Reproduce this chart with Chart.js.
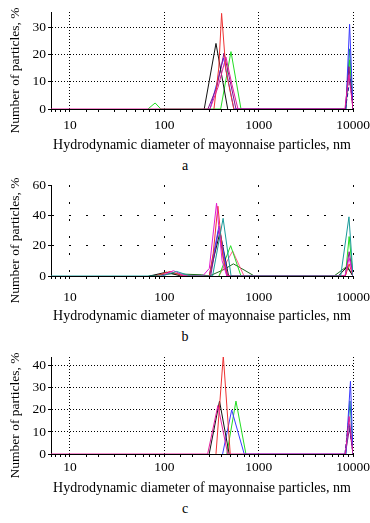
<!DOCTYPE html>
<html>
<head>
<meta charset="utf-8">
<script src="https://cdn.jsdelivr.net/npm/chart.js"></script>
<style>
  body { margin: 0; background: #fff; width: 370px; height: 523px; position: relative; overflow: hidden; font-family: 'Liberation Serif', 'Times New Roman', serif; }
  .panel { position: absolute; left: 0; width: 370px; }
  .caption { position: absolute; left: 0; width: 370px; text-align: center; font-size: 14px; line-height: 16px; color: #000; }
</style>
</head>
<body>
<div class="panel" style="top:0;height:155px"><canvas id="chartA"></canvas></div>
<div class="caption" style="top:158px">a</div>
<div class="panel" style="top:170px;height:156px"><canvas id="chartB"></canvas></div>
<div class="caption" style="top:329px">b</div>
<div class="panel" style="top:345px;height:153px"><canvas id="chartC"></canvas></div>
<div class="caption" style="top:501px">c</div>
<script>
const xTickLabels = [10, 100, 1000, 10000];
const xTitle = 'Hydrodynamic diameter of mayonnaise particles, nm';
const yTitle = 'Number of particles, %';
const aYTicks = [0, 5, 10, 15, 20, 25, 30, 35];
const bYTicks = [0, 10, 20, 30, 40, 50, 60];
const cYTicks = [0, 5, 10, 15, 20, 25, 30, 35, 40];

// panel a: diameter (nm) / share (%) of each run
const aPinkNm = [6.3, 305, 371, 450, 521, 604, 8210, 9060, 10000];
const aPinkPct = [0, 0, 8, 19, 9, 0, 0, 12.5, 0];
const aRedNm = [336, 378, 405, 450, 545];
const aRedPct = [0, 15, 35, 14, 0];
const aBlackNm = [265, 353, 470];
const aBlackPct = [0, 24, 0];
const aPurpleNm = [290, 360, 430, 500, 575, 8300, 9060, 10000];
const aPurplePct = [0, 8, 20.5, 10, 0, 0, 15.5, 0];
const aBlueNm = [305, 425, 547, 8400, 9200, 10000];
const aBluePct = [0, 18.7, 0, 0, 31, 0];
const aNavyNm = [8300, 9300, 10000];
const aNavyPct = [0, 11, 0];
const aGreenNm = [67, 80, 92, 396, 509, 650, 8400, 9200, 10000];
const aGreenPct = [0, 2.2, 0, 0, 21, 0, 0, 18, 0];
const aTealNm = [8400, 9200, 10000];
const aTealPct = [0, 22, 0];

// panel b
const bTealNm = [6.3, 95, 135, 190, 325, 420, 510, 7400, 9060, 10000];
const bTealPct = [0, 0, 3, 0, 0, 38, 0, 0, 39, 0];
const bMagentaNm = [92, 125, 165, 255, 300, 358, 410, 460, 8200, 9100, 10000];
const bMagentaPct = [0, 3.5, 0, 0, 5, 48, 10, 0, 0, 12, 0];
const bRedNm = [80, 115, 160, 300, 330, 370, 420, 470, 8300, 9100, 10000];
const bRedPct = [0, 3, 0, 0, 15, 46, 12, 0, 0, 8, 0];
const bBlueNm = [300, 380, 470];
const bBluePct = [0, 33, 0];
const bPurpleNm = [310, 375, 460, 8300, 9100, 10000];
const bPurplePct = [0, 30, 0, 0, 16, 0];
const bBlackNm = [70, 105, 150, 300, 390, 480, 7000, 8635, 10000];
const bBlackPct = [0, 2.5, 0, 0, 29, 0, 0, 6, 0];
const bGreenNm = [380, 505, 650, 8300, 9100, 10000];
const bGreenPct = [0, 20, 0, 0, 26, 0];
const bSalmonNm = [380, 530, 700];
const bSalmonPct = [0, 16.5, 0];
const bDarkGreenNm = [68, 120, 250, 300, 420, 540, 700, 900, 6300, 8700, 10000];
const bDarkGreenPct = [0, 1.5, 0.8, 0, 4, 8, 4, 0, 0, 6.5, 0];

// panel c
const cPinkNm = [6.3, 288, 370, 470, 8300, 9100, 10000];
const cPinkPct = [0, 0, 22, 0, 0, 17, 0];
const cBlackNm = [299, 385, 487];
const cBlackPct = [0, 24, 0];
const cRedNm = [353, 422, 500];
const cRedPct = [0, 44.5, 0];
const cBlueNm = [415, 518, 703, 8400, 9400, 10000];
const cBluePct = [0, 20, 0, 0, 33, 0];
const cGreenNm = [460, 575, 733];
const cGreenPct = [0, 24, 0];
const cTealNm = [8400, 9300, 10000];
const cTealPct = [0, 24, 0];
const cNavyNm = [8200, 9000, 10000];
const cNavyPct = [0, 15, 0];
const cPurpleNm = [8300, 9200, 10000];
const cPurplePct = [0, 12, 0];

const FONT = "'Liberation Serif', 'Times New Roman', serif";

function line(nm, pct, color, dash) {
  return {
    data: nm.map((x, i) => ({ x, y: pct[i] })),
    borderColor: color,
    borderWidth: 1,
    borderDash: dash || [],
    pointRadius: 0,
    fill: false,
    tension: 0
  };
}

const yTitlePlugin = {
  id: 'yTitle',
  afterDraw(chart) {
    const { ctx, chartArea } = chart;
    ctx.save();
    ctx.translate(15, (chartArea.top + chartArea.bottom) / 2 + 10);
    ctx.rotate(-Math.PI / 2);
    ctx.font = `13.5px ${FONT}`;
    ctx.fillStyle = '#000';
    ctx.textAlign = 'center';
    ctx.textBaseline = 'middle';
    ctx.fillText(yTitle, 0, 0);
    ctx.restore();
  }
};

function makeChart(id, datasets, o) {
  new Chart(document.getElementById(id), {
    type: 'line',
    data: { datasets },
    plugins: [yTitlePlugin],
    options: {
      responsive: true,
      maintainAspectRatio: false,
      animation: false,
      layout: { padding: { top: o.padTop, left: 0, right: 17, bottom: 0 } },
      plugins: { legend: { display: false }, tooltip: { enabled: false } },
      scales: {
        x: {
          type: 'logarithmic',
          min: 6.3,
          max: 10000,
          afterFit: s => { s.height = o.xHeight; s.paddingLeft = 0; s.paddingRight = 0; },
          grid: {
            color: c => (c.tick && xTickLabels.includes(c.tick.value)) ? '#000' : 'rgba(0,0,0,0)',
            tickColor: '#000',
            tickLength: 3,
            lineWidth: 1
          },
          border: { display: true, color: '#000', width: 1, dash: o.dash },
          ticks: {
            autoSkip: false,
            maxRotation: 0,
            padding: o.xPad,
            color: '#000',
            font: { family: FONT, size: 13.5 },
            callback: v => xTickLabels.includes(v) ? String(v) : ''
          },
          title: {
            display: true,
            text: xTitle,
            color: '#000',
            font: { family: FONT, size: 14 },
            padding: { top: 0, bottom: 1 }
          }
        },
        y: {
          min: 0,
          max: o.yMax,
          afterFit: s => { s.width = 51; },
          afterBuildTicks: s => { s.ticks = o.yTicks.map(v => ({ value: v })); },
          grid: {
            color: c => (c.tick && c.tick.value > 0 && c.tick.value < o.yMax && c.tick.value % o.labelStep === 0) ? '#000' : 'rgba(0,0,0,0)',
            tickColor: '#000',
            tickLength: 3,
            lineWidth: 1
          },
          border: { display: true, color: '#000', width: 1, dash: o.dash },
          ticks: {
            padding: 2,
            color: '#000',
            font: { family: FONT, size: 13.5 },
            callback: v => v % o.labelStep === 0 ? v : ''
          }
        }
      }
    }
  });
}

makeChart('chartA', [
  line(aPinkNm, aPinkPct, '#e41c9c'),
  line(aNavyNm, aNavyPct, '#1a1a99', [4, 2]),
  line(aRedNm, aRedPct, '#ee3333'),
  line(aBlackNm, aBlackPct, '#111111'),
  line(aPurpleNm, aPurplePct, '#8a108a'),
  line(aBlueNm, aBluePct, '#3a3aff'),
  line(aGreenNm, aGreenPct, '#22dd22'),
  line(aTealNm, aTealPct, '#138a8a')
], { yMax: 35.5, yTicks: aYTicks, labelStep: 10, dash: [1, 2], padTop: 12, xHeight: 46, xPad: 5 });

makeChart('chartB', [
  line(bTealNm, bTealPct, '#1a9a9a'),
  line(bMagentaNm, bMagentaPct, '#e41cd0'),
  line(bRedNm, bRedPct, '#ee3333'),
  line(bBlueNm, bBluePct, '#3a3aff'),
  line(bPurpleNm, bPurplePct, '#8a108a'),
  line(bBlackNm, bBlackPct, '#111111'),
  line(bGreenNm, bGreenPct, '#22dd22'),
  line(bSalmonNm, bSalmonPct, '#ff5c8a'),
  line(bDarkGreenNm, bDarkGreenPct, '#1e6b1e')
], { yMax: 60, yTicks: bYTicks, labelStep: 20, dash: [2, 15], padTop: 15, xHeight: 50, xPad: 10 });

makeChart('chartC', [
  line(cPinkNm, cPinkPct, '#e41c9c'),
  line(cNavyNm, cNavyPct, '#1a1a99', [4, 2]),
  line(cRedNm, cRedPct, '#ee3333'),
  line(cBlackNm, cBlackPct, '#111111'),
  line(cBlueNm, cBluePct, '#3a3aff'),
  line(cGreenNm, cGreenPct, '#22dd22'),
  line(cTealNm, cTealPct, '#138a8a'),
  line(cPurpleNm, cPurplePct, '#8a108a')
], { yMax: 44, yTicks: cYTicks, labelStep: 10, dash: [1, 2], padTop: 12, xHeight: 44, xPad: 2.5 });
</script>
</body>
</html>
